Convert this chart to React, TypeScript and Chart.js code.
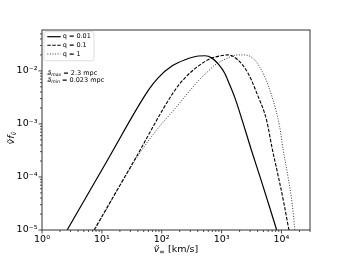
import React, { useEffect, useRef } from 'react';
import { Chart, registerables } from 'chart.js';

Chart.register(...registerables);

const SERIES_LABELS = ['q = 0.01', 'q = 0.1', 'q = 1'];

const Q001_X = [2.63, 12.6, 60.3, 87.1, 148, 245, 407, 525, 692, 891, 1122, 1318, 1660, 2239, 3162, 4571, 6310, 8318];
const Q001_Y = [1.0e-5, 2.14e-4, 4.37e-3, 7.41e-3, 1.23e-2, 1.62e-2, 1.91e-2, 1.93e-2, 1.74e-2, 1.32e-2, 9.12e-3, 6.03e-3, 3.16e-3, 1.12e-3, 3.16e-4, 8.71e-5, 2.75e-5, 1.0e-5];

const Q01_X = [7.41, 34.7, 158, 245, 407, 646, 933, 1259, 1862, 2754, 4074, 5623, 7079, 8913, 10965, 13335];
const Q01_Y = [1.0e-5, 2.04e-4, 3.98e-3, 7.41e-3, 1.23e-2, 1.70e-2, 1.91e-2, 2.0e-2, 1.62e-2, 9.12e-3, 3.31e-3, 1.2e-3, 3.24e-4, 1.0e-4, 3.24e-5, 1.0e-5];

const Q1_X = [7.59, 40.7, 87.1, 148, 282, 407, 603, 776, 1259, 1862, 2399, 3548, 5248, 7244, 9333, 10715, 12882, 15136, 16788];
const Q1_Y = [1.0e-5, 2.57e-4, 8.32e-4, 1.66e-3, 3.98e-3, 6.46e-3, 1.0e-2, 1.29e-2, 1.74e-2, 2.0e-2, 2.0e-2, 1.62e-2, 7.76e-3, 2.82e-3, 8.91e-4, 3.24e-4, 1.0e-4, 3.09e-5, 1.0e-5];

const X_TICK_VALUES = [1, 10, 100, 1000, 10000];
const X_TICK_LABELS = ['10⁰', '10¹', '10²', '10³', '10⁴'];
const Y_TICK_VALUES = [1e-5, 1e-4, 1e-3, 1e-2];
const Y_TICK_LABELS = ['10⁻⁵', '10⁻⁴', '10⁻³', '10⁻²'];

const X_MIN = 1;
const X_MAX = 30000;
const Y_MIN = 1e-5;
const Y_MAX = 0.059;

const ANNOTATION_SYMBOL = 'ã';
const ANNOTATION_SUBS = ['max', 'min'];
const ANNOTATION_TEXTS = [' = 2.3 mpc', ' = 0.023 mpc'];

const FONT = "'DejaVu Sans', sans-serif";

function lookupLabel(v: number, values: number[], labels: string[]): string {
  for (let i = 0; i < values.length; i++) {
    if (Math.abs(Math.log10(v) - Math.log10(values[i])) < 1e-6) return labels[i];
  }
  return '';
}

type Seg = { t: string; size: number; dy: number; italic?: boolean };

function segWidth(ctx: CanvasRenderingContext2D, segs: Seg[]) {
  let w = 0;
  for (const s of segs) {
    ctx.font = `${s.italic ? 'italic ' : ''}${s.size}px ${FONT}`;
    w += ctx.measureText(s.t).width;
  }
  return w;
}

function drawSegs(ctx: CanvasRenderingContext2D, x: number, y: number, segs: Seg[]) {
  let cx = x;
  for (const s of segs) {
    ctx.font = `${s.italic ? 'italic ' : ''}${s.size}px ${FONT}`;
    ctx.fillText(s.t, cx, y + s.dy);
    cx += ctx.measureText(s.t).width;
  }
}

function isIntSignificand(v: number) {
  const e = Math.floor(Math.log10(v) + 1e-9);
  const m = v / Math.pow(10, e);
  return Math.abs(m - Math.round(m)) < 1e-6;
}
function isPow10(v: number) {
  const l = Math.log10(v);
  return Math.abs(l - Math.round(l)) < 1e-6;
}

const decorPlugin = {
  id: 'decor',
  afterDraw(chart: any) {
    const ctx: CanvasRenderingContext2D = chart.ctx;
    const { left, right, top, bottom } = chart.chartArea;
    ctx.save();

    // ticks
    ctx.strokeStyle = '#222';
    ctx.lineWidth = 0.8;
    const xs = chart.scales.x;
    for (const t of xs.ticks) {
      if (!isIntSignificand(t.value)) continue;
      const px = xs.getPixelForValue(t.value);
      if (px < left - 0.5 || px > right + 0.5) continue;
      const len = isPow10(t.value) ? 3.5 : 2;
      ctx.beginPath();
      ctx.moveTo(px, bottom);
      ctx.lineTo(px, bottom + len);
      ctx.stroke();
    }
    const ys = chart.scales.y;
    for (const t of ys.ticks) {
      if (!isIntSignificand(t.value)) continue;
      const py = ys.getPixelForValue(t.value);
      if (py < top - 0.5 || py > bottom + 0.5) continue;
      const len = isPow10(t.value) ? 3.5 : 2;
      ctx.beginPath();
      ctx.moveTo(left, py);
      ctx.lineTo(left - len, py);
      ctx.stroke();
    }

    // frame
    ctx.strokeStyle = '#333';
    ctx.lineWidth = 1;
    ctx.strokeRect(Math.round(left), Math.round(top), Math.round(right) - Math.round(left), Math.round(bottom) - Math.round(top));

    // legend
    const lx = 44, ly = 31.7, lw = 50, lh = 29;
    ctx.beginPath();
    (ctx as any).roundRect(lx, ly, lw, lh, 1.5);
    ctx.fillStyle = 'rgba(255,255,255,0.8)';
    ctx.fill();
    ctx.strokeStyle = '#d0d0d0';
    ctx.lineWidth = 0.7;
    ctx.stroke();
    const rows = [36.7, 45.3, 54];
    chart.data.datasets.forEach((ds: any, i: number) => {
      ctx.strokeStyle = ds.borderColor;
      ctx.lineWidth = ds.borderWidth;
      ctx.setLineDash(ds.borderDash || []);
      ctx.beginPath();
      ctx.moveTo(47.3, rows[i]);
      ctx.lineTo(60.7, rows[i]);
      ctx.stroke();
      ctx.setLineDash([]);
      ctx.fillStyle = '#000';
      ctx.font = `6.5px ${FONT}`;
      ctx.textBaseline = 'middle';
      ctx.textAlign = 'left';
      ctx.fillText(ds.label, 62.7, rows[i]);
    });

    // annotations
    ctx.textBaseline = 'alphabetic';
    ctx.fillStyle = '#000';
    const baselines = [74.5, 81.5];
    for (let i = 0; i < ANNOTATION_SUBS.length; i++) {
      drawSegs(ctx, 47.3, baselines[i], [
        { t: ANNOTATION_SYMBOL, size: 6.5, dy: 0, italic: true },
        { t: ANNOTATION_SUBS[i], size: 4.6, dy: 1.2, italic: true },
        { t: ANNOTATION_TEXTS[i], size: 6.5, dy: 0 },
      ]);
    }

    // x title
    const xt: Seg[] = [
      { t: 'ṽ', size: 9.5, dy: 0, italic: true },
      { t: '∞', size: 6.7, dy: 1.8 },
      { t: ' [km/s]', size: 9.5, dy: 0 },
    ];
    const xw = segWidth(ctx, xt);
    ctx.textBaseline = 'alphabetic';
    drawSegs(ctx, (left + right) / 2 - xw / 2, 252, xt);

    // y title
    const yt: Seg[] = [
      { t: 'ṽf', size: 9.5, dy: 0, italic: true },
      { t: 'ṽ', size: 6.7, dy: 1.8, italic: true },
    ];
    const yw = segWidth(ctx, yt);
    ctx.save();
    ctx.translate(14, (top + bottom) / 2 + 8);
    ctx.rotate(-Math.PI / 2);
    drawSegs(ctx, -yw / 2, 0, yt);
    ctx.restore();

    ctx.restore();
  },
};

function toPoints(xs: number[], ys: number[]) {
  return xs.map((x, i) => ({ x, y: ys[i] }));
}

export default function App() {
  const ref = useRef<HTMLCanvasElement | null>(null);
  useEffect(() => {
    if (!ref.current) return;
    const common = { pointRadius: 0, fill: false, cubicInterpolationMode: 'monotone' };
    const chart = new Chart(ref.current, {
      type: 'line',
      data: {
        datasets: [
          { ...common, label: SERIES_LABELS[0], data: toPoints(Q001_X, Q001_Y), borderColor: '#000', borderWidth: 1.2, borderDash: [] },
          { ...common, label: SERIES_LABELS[1], data: toPoints(Q01_X, Q01_Y), borderColor: '#000', borderWidth: 1.1, borderDash: [3.5, 1.5] },
          { ...common, label: SERIES_LABELS[2], data: toPoints(Q1_X, Q1_Y), borderColor: '#222', borderWidth: 0.9, borderDash: [1, 1.6] },
        ] as any,
      },
      options: {
        animation: false,
        responsive: false,
        maintainAspectRatio: false,
        layout: { padding: { left: 0, right: 34, top: 30, bottom: 0 } },
        plugins: { legend: { display: false }, tooltip: { enabled: false } },
        scales: {
          x: {
            type: 'logarithmic',
            min: X_MIN,
            max: X_MAX,
            grid: { display: false, drawTicks: true, tickLength: 3 },
            border: { display: false },
            ticks: {
              autoSkip: false,
              maxRotation: 0,
              padding: 0.5,
              color: '#000',
              font: { family: FONT, size: 9.5 },
              callback: (v: any) => lookupLabel(Number(v), X_TICK_VALUES, X_TICK_LABELS),
            },
            afterFit: (s: any) => { s.height = 28; },
          },
          y: {
            type: 'logarithmic',
            min: Y_MIN,
            max: Y_MAX,
            grid: { display: false, drawTicks: true, tickLength: 3 },
            border: { display: false },
            ticks: {
              autoSkip: false,
              padding: 1.5,
              color: '#000',
              font: { family: FONT, size: 9.5 },
              callback: (v: any) => lookupLabel(Number(v), Y_TICK_VALUES, Y_TICK_LABELS),
            },
            afterFit: (s: any) => { s.width = 42; },
          },
        },
      } as any,
      plugins: [decorPlugin],
    });
    return () => chart.destroy();
  }, []);
  return (
    <div style={{ position: 'fixed', left: 0, top: 0, width: 344, height: 258, background: '#fff' }}>
      <canvas ref={ref} width={344} height={258} style={{ width: 344, height: 258 }} />
    </div>
  );
}
